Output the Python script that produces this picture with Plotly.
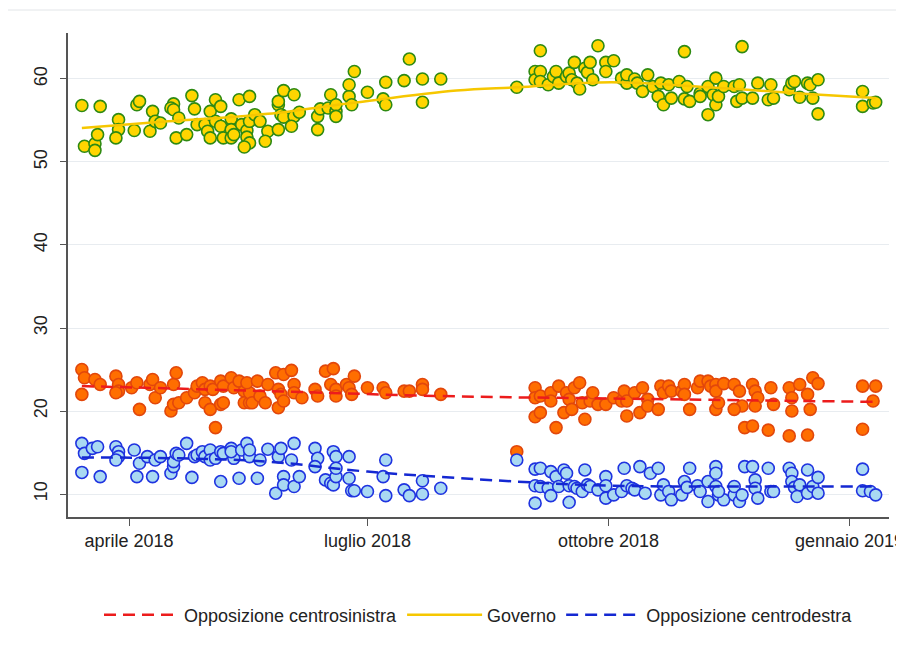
import plotly.graph_objects as go

# Governo (sondaggi)
gov_dates = [
    "2018-03-14", "2018-03-15", "2018-03-19", "2018-03-19", "2018-03-20", "2018-03-21", "2018-03-28", "2018-03-28", "2018-03-27",
    "2018-04-03", "2018-04-04", "2018-04-05", "2018-04-09", "2018-04-10", "2018-04-11", "2018-04-13", "2018-04-18", "2018-04-17",
    "2018-04-18", "2018-04-20", "2018-04-19", "2018-04-23", "2018-04-25", "2018-04-26", "2018-04-27", "2018-04-30",
    "2018-05-01", "2018-05-02", "2018-05-02", "2018-05-04", "2018-05-04", "2018-05-06", "2018-05-06", "2018-05-07", "2018-05-10",
    "2018-05-10", "2018-05-10", "2018-05-11", "2018-05-13", "2018-05-14", "2018-05-16", "2018-05-16", "2018-05-17", "2018-05-15",
    "2018-05-17", "2018-05-17", "2018-05-19", "2018-05-21", "2018-05-24", "2018-05-23", "2018-05-28", "2018-05-28", "2018-05-28",
    "2018-05-30", "2018-05-29", "2018-05-30",
    "2018-06-03", "2018-06-03", "2018-06-05", "2018-06-02", "2018-06-12", "2018-06-12", "2018-06-13", "2018-06-16", "2018-06-17",
    "2018-06-19", "2018-06-19", "2018-06-19", "2018-06-24", "2018-06-24", "2018-06-25", "2018-06-26",
    "2018-07-01", "2018-07-07", "2018-07-08", "2018-07-08", "2018-07-15", "2018-07-17", "2018-07-22", "2018-07-22", "2018-07-29",
    "2018-08-27", "2018-09-03", "2018-09-03", "2018-09-05", "2018-09-05", "2018-09-05", "2018-09-08", "2018-09-10", "2018-09-11",
    "2018-09-12", "2018-09-15", "2018-09-16", "2018-09-17", "2018-09-18", "2018-09-19", "2018-09-20", "2018-09-22", "2018-09-23",
    "2018-09-24", "2018-09-25", "2018-09-27", "2018-09-30", "2018-09-30",
    "2018-10-03", "2018-10-06", "2018-10-08", "2018-10-08", "2018-10-11", "2018-10-12", "2018-10-14", "2018-10-16", "2018-10-18",
    "2018-10-20", "2018-10-21", "2018-10-22", "2018-10-24", "2018-10-25", "2018-10-28", "2018-10-30", "2018-10-30", "2018-10-31",
    "2018-11-01", "2018-11-05", "2018-11-05", "2018-11-08", "2018-11-08", "2018-11-10", "2018-11-11", "2018-11-11", "2018-11-12",
    "2018-11-14", "2018-11-18", "2018-11-19", "2018-11-20", "2018-11-21", "2018-11-21", "2018-11-25", "2018-11-27",
    "2018-12-01", "2018-12-02", "2018-12-03", "2018-12-09", "2018-12-10", "2018-12-11", "2018-12-13", "2018-12-16", "2018-12-17",
    "2018-12-18", "2018-12-20", "2018-12-20",
    "2019-01-06", "2019-01-06", "2019-01-10", "2019-01-11",
]
gov_values = [
    56.8, 51.9, 52.2, 51.4, 53.3, 56.7, 55.1, 53.9, 52.9,
    53.8, 56.9, 57.3, 53.7, 56.1, 54.9, 54.7, 57.0, 56.5,
    56.3, 55.3, 52.9, 53.3, 58.0, 56.4, 54.5, 54.5,
    53.7, 56.1, 52.9, 57.5, 54.9, 56.7, 54.3, 52.9, 55.2,
    53.9, 52.9, 53.3, 57.5, 54.5, 53.8, 53.0, 52.3, 51.8,
    57.9, 54.9, 55.7, 54.9, 53.7, 52.5, 53.9, 56.9, 57.3,
    58.6, 55.7, 55.4,
    58.1, 55.5, 56.0, 54.3, 55.5, 53.9, 56.4, 56.5, 58.1,
    56.1, 56.9, 55.5, 57.9, 59.3, 56.9, 60.9,
    58.4, 57.6, 56.9, 59.6, 59.8, 62.4, 60.0, 57.2, 60.0,
    59.0, 60.9, 59.9, 60.9, 63.4, 59.7, 59.3, 60.3, 60.9,
    59.5, 60.3, 60.7, 59.9, 62.0, 59.5, 58.8, 61.3, 60.8,
    62.0, 59.9, 64.0, 62.0, 60.9,
    62.2, 60.1, 59.5, 60.5, 60.0, 59.5, 58.5, 60.5, 59.1,
    57.9, 59.5, 56.9, 59.3, 57.7, 59.7, 63.3, 57.6, 59.1,
    57.3, 58.3, 57.9, 59.1, 55.7, 58.1, 60.1, 56.9, 57.9,
    59.1, 59.1, 57.3, 59.3, 63.9, 57.7, 57.7, 59.5,
    57.5, 59.3, 57.7, 58.7, 59.5, 59.7, 57.8, 59.5, 59.3,
    57.7, 59.9, 55.8,
    58.5, 56.7, 57.1, 57.2,
]

# Opposizione centrosinistra
csx_dates = [
    "2018-03-14", "2018-03-15", "2018-03-14", "2018-03-19", "2018-03-21", "2018-03-27", "2018-03-28", "2018-03-28", "2018-03-27",
    "2018-04-02", "2018-04-04", "2018-04-05", "2018-04-09", "2018-04-10", "2018-04-11", "2018-04-13", "2018-04-18", "2018-04-19",
    "2018-04-17", "2018-04-18", "2018-04-20", "2018-04-23", "2018-04-26", "2018-04-27", "2018-04-29", "2018-04-30", "2018-04-30",
    "2018-05-02", "2018-05-02", "2018-05-03", "2018-05-04", "2018-05-06", "2018-05-07", "2018-05-06", "2018-05-07", "2018-05-10",
    "2018-05-11", "2018-05-13", "2018-05-15", "2018-05-15", "2018-05-17", "2018-05-17", "2018-05-18", "2018-05-16", "2018-05-20",
    "2018-05-21", "2018-05-23", "2018-05-24", "2018-05-27", "2018-05-30", "2018-05-28", "2018-05-28", "2018-05-29", "2018-05-30",
    "2018-06-02", "2018-06-03", "2018-06-03", "2018-06-06", "2018-06-11", "2018-06-12", "2018-06-15", "2018-06-18", "2018-06-17",
    "2018-06-19", "2018-06-19", "2018-06-23", "2018-06-24", "2018-06-25", "2018-06-26",
    "2018-07-01", "2018-07-07", "2018-07-08", "2018-07-15", "2018-07-17", "2018-07-22", "2018-07-22", "2018-07-29",
    "2018-08-27", "2018-09-03", "2018-09-03", "2018-09-03", "2018-09-05", "2018-09-05", "2018-09-09", "2018-09-09", "2018-09-12",
    "2018-09-11", "2018-09-14", "2018-09-15", "2018-09-16", "2018-09-17", "2018-09-18", "2018-09-20", "2018-09-22", "2018-09-21",
    "2018-09-24", "2018-09-25", "2018-09-27", "2018-09-30",
    "2018-10-03", "2018-10-06", "2018-10-07", "2018-10-08", "2018-10-08", "2018-10-11", "2018-10-13", "2018-10-14", "2018-10-16",
    "2018-10-16", "2018-10-20", "2018-10-21", "2018-10-22", "2018-10-24", "2018-10-25", "2018-10-29", "2018-10-30", "2018-10-30",
    "2018-11-01", "2018-11-04", "2018-11-05", "2018-11-08", "2018-11-09", "2018-11-11", "2018-11-11", "2018-11-11", "2018-11-14",
    "2018-11-12", "2018-11-18", "2018-11-20", "2018-11-21", "2018-11-18", "2018-11-22", "2018-11-25", "2018-11-25", "2018-11-26",
    "2018-11-27", "2018-11-26",
    "2018-12-01", "2018-12-02", "2018-12-03", "2018-12-09", "2018-12-10", "2018-12-10", "2018-12-13", "2018-12-09", "2018-12-16",
    "2018-12-17", "2018-12-16", "2018-12-18", "2018-12-20",
    "2019-01-06", "2019-01-11", "2019-01-10", "2019-01-06",
]
csx_values = [
    25.0, 24.0, 22.0, 23.8, 23.2, 24.2, 23.2, 22.4, 22.2,
    22.8, 23.4, 20.2, 23.2, 23.8, 21.6, 22.8, 23.2, 24.6,
    20.0, 20.8, 21.0, 21.6, 22.2, 23.0, 23.4, 22.6, 21.0,
    20.2, 23.0, 22.6, 18.0, 20.8, 21.0, 23.6, 23.0, 24.0,
    22.8, 23.6, 22.4, 21.0, 21.0, 22.2, 21.0, 23.4, 23.6,
    21.8, 21.0, 23.2, 24.6, 24.4, 22.6, 20.4, 22.0, 21.2,
    24.9, 23.2, 22.2, 21.6, 22.6, 21.8, 24.8, 25.1, 23.2,
    22.6, 21.8, 23.2, 22.8, 22.0, 24.2,
    22.8, 22.8, 22.2, 22.4, 22.4, 23.2, 22.6, 22.0,
    15.1, 22.8, 21.6, 19.3, 19.8, 21.8, 22.2, 21.2, 23.0,
    18.0, 19.8, 22.2, 21.4, 20.2, 22.8, 23.4, 19.0, 21.0,
    21.2, 22.2, 20.8, 20.8,
    21.6, 21.2, 22.4, 19.4, 21.2, 22.2, 19.8, 22.8, 21.4,
    20.6, 20.2, 23.0, 22.2, 23.0, 22.4, 22.4, 23.2, 22.0,
    20.2, 22.8, 23.6, 23.6, 23.0, 23.2, 22.4, 20.2, 23.3,
    21.0, 23.2, 22.4, 20.6, 20.2, 18.0, 18.2, 23.2, 22.4,
    21.6, 20.6,
    17.7, 22.8, 20.8, 22.8, 21.6, 20.0, 23.2, 17.0, 22.0,
    20.2, 17.1, 24.0, 23.3,
    23.0, 23.0, 21.2, 17.8,
]

# Opposizione centrodestra
cdx_dates = [
    "2018-03-14", "2018-03-15", "2018-03-14", "2018-03-18", "2018-03-20", "2018-03-21", "2018-03-27", "2018-03-28", "2018-03-28",
    "2018-03-27",
    "2018-04-03", "2018-04-04", "2018-04-05", "2018-04-08", "2018-04-10", "2018-04-11", "2018-04-13", "2018-04-17", "2018-04-18",
    "2018-04-18", "2018-04-19", "2018-04-20", "2018-04-23", "2018-04-25", "2018-04-26", "2018-04-27", "2018-04-29", "2018-04-30",
    "2018-05-02", "2018-05-02", "2018-05-04", "2018-05-06", "2018-05-06", "2018-05-07", "2018-05-10", "2018-05-11", "2018-05-10",
    "2018-05-13", "2018-05-14", "2018-05-16", "2018-05-17", "2018-05-17", "2018-05-20", "2018-05-21", "2018-05-24", "2018-05-27",
    "2018-05-28", "2018-05-29", "2018-05-30", "2018-05-30",
    "2018-06-03", "2018-06-02", "2018-06-03", "2018-06-05", "2018-06-11", "2018-06-12", "2018-06-11", "2018-06-15", "2018-06-17",
    "2018-06-18", "2018-06-18", "2018-06-19", "2018-06-19", "2018-06-19", "2018-06-24", "2018-06-24", "2018-06-25", "2018-06-26",
    "2018-07-01", "2018-07-08", "2018-07-07", "2018-07-08", "2018-07-15", "2018-07-17", "2018-07-22", "2018-07-22", "2018-07-29",
    "2018-08-27", "2018-09-03", "2018-09-05", "2018-09-03", "2018-09-05", "2018-09-03", "2018-09-08", "2018-09-09", "2018-09-09",
    "2018-09-11", "2018-09-12", "2018-09-14", "2018-09-15", "2018-09-16", "2018-09-16", "2018-09-18", "2018-09-19", "2018-09-22",
    "2018-09-21", "2018-09-23", "2018-09-24", "2018-09-27", "2018-09-30", "2018-09-30", "2018-09-30",
    "2018-10-03", "2018-10-06", "2018-10-07", "2018-10-08", "2018-10-10", "2018-10-11", "2018-10-13", "2018-10-15", "2018-10-17",
    "2018-10-20", "2018-10-21", "2018-10-22", "2018-10-24", "2018-10-25", "2018-10-29", "2018-10-30", "2018-10-31",
    "2018-11-01", "2018-11-04", "2018-11-05", "2018-11-08", "2018-11-08", "2018-11-11", "2018-11-11", "2018-11-11", "2018-11-12",
    "2018-11-14", "2018-11-12", "2018-11-18", "2018-11-18", "2018-11-20", "2018-11-21", "2018-11-22", "2018-11-25", "2018-11-26",
    "2018-11-26", "2018-11-27",
    "2018-12-01", "2018-12-02", "2018-12-03", "2018-12-09", "2018-12-10", "2018-12-10", "2018-12-11", "2018-12-13", "2018-12-12",
    "2018-12-16", "2018-12-16", "2018-12-18", "2018-12-20", "2018-12-20",
    "2019-01-06", "2019-01-06", "2019-01-09", "2019-01-11",
]
cdx_values = [
    16.1, 14.9, 12.6, 15.5, 15.7, 12.1, 15.7, 15.1, 14.5,
    14.1,
    15.3, 12.1, 13.7, 14.5, 12.1, 14.1, 14.5, 12.5, 13.3,
    13.9, 14.9, 14.7, 16.1, 12.0, 14.5, 14.7, 15.1, 14.5,
    15.3, 14.1, 14.3, 11.5, 15.1, 14.9, 15.5, 14.3, 15.1,
    11.9, 15.3, 16.1, 14.5, 15.3, 11.9, 14.1, 15.4, 10.1,
    14.5, 15.5, 12.1, 11.1,
    16.1, 14.1, 10.9, 12.1, 15.5, 14.3, 13.3, 11.7, 11.3,
    11.1, 15.1, 14.5, 12.1, 13.1, 11.9, 14.5, 10.4, 10.4,
    10.3, 14.1, 12.1, 9.8, 10.5, 9.8, 11.6, 10.0, 10.7,
    14.1, 13.0, 13.1, 11.0, 10.9, 8.9, 10.7, 9.8, 12.7,
    12.1, 10.9, 12.9, 12.5, 11.0, 9.0, 10.9, 10.7, 12.9,
    10.3, 11.1, 10.9, 10.5, 12.1, 11.0, 9.5,
    9.9, 10.3, 13.1, 11.0, 10.7, 10.5, 13.3, 10.1, 12.5,
    13.1, 9.9, 11.1, 10.3, 9.3, 9.9, 11.5, 10.8,
    13.1, 11.0, 10.3, 9.1, 11.5, 13.3, 12.5, 10.9, 9.9,
    9.3, 10.3, 9.9, 10.9, 9.1, 9.9, 13.3, 13.3, 11.7,
    10.7, 9.5,
    13.1, 10.3, 10.3, 13.1, 12.5, 11.5, 10.8, 11.1, 9.7,
    12.9, 10.1, 10.9, 12.0, 10.1,
    13.0, 10.4, 10.3, 9.9,
]

# curve di tendenza
gov_trend_dates = ["2018-03-14", "2018-04-16", "2018-05-24", "2018-06-25", "2018-08-04",
                   "2018-08-27", "2018-10-02", "2018-11-08", "2018-12-16", "2019-01-11"]
gov_trend = [54.1, 54.9, 55.8, 57.1, 58.6, 59.0, 59.6, 59.0, 58.2, 57.7]
csx_trend_dates = ["2018-03-14", "2018-05-24", "2018-07-29", "2018-10-02", "2019-01-11"]
csx_trend = [23.0, 22.4, 21.8, 21.5, 21.1]
cdx_trend_dates = ["2018-03-14", "2018-04-20", "2018-05-24", "2018-07-01", "2018-08-27",
                   "2018-10-02", "2018-11-15", "2019-01-11"]
cdx_trend = [14.4, 14.3, 13.9, 12.7, 11.5, 11.0, 10.9, 10.9]

tick_dates = ["2018-04-01", "2018-07-01", "2018-10-01", "2019-01-01"]
tick_labels = ["aprile 2018", "luglio 2018", "ottobre 2018", "gennaio 2019"]
y_ticks = [10, 20, 30, 40, 50, 60]

FONT = "Liberation Sans, Arial, sans-serif"

fig = go.Figure()

# punti dei sondaggi
fig.add_trace(go.Scatter(x=csx_dates, y=csx_values, mode="markers", showlegend=False,
                         marker=dict(size=12, color="#FF6E00", line=dict(color="#E2470B", width=1.6))))
fig.add_trace(go.Scatter(x=cdx_dates, y=cdx_values, mode="markers", showlegend=False,
                         marker=dict(size=12, color="#A9D9F2", line=dict(color="#1F33E0", width=1.6))))
fig.add_trace(go.Scatter(x=gov_dates, y=gov_values, mode="markers", showlegend=False,
                         marker=dict(size=12, color="#FFD500", line=dict(color="#2E8A12", width=1.6))))

# linee di tendenza (in legenda)
fig.add_trace(go.Scatter(x=csx_trend_dates, y=csx_trend, mode="lines", name="Opposizione centrosinistra",
                         line=dict(color="#EC1C1C", width=2.5, dash="12px,7px", shape="spline")))
fig.add_trace(go.Scatter(x=gov_trend_dates, y=gov_trend, mode="lines", name="Governo",
                         line=dict(color="#F6C700", width=2.5, shape="spline")))
fig.add_trace(go.Scatter(x=cdx_trend_dates, y=cdx_trend, mode="lines", name="Opposizione centrodestra",
                         line=dict(color="#1428D2", width=2.5, dash="12px,7px", shape="spline")))

# la pagina ha 8px di margine: figura più piccola per stare nella finestra
fig.update_layout(
    width=896, height=652,
    margin=dict(l=60, r=15, t=25, b=143, autoexpand=False),
    paper_bgcolor="white", plot_bgcolor="white",
    font=dict(family=FONT, size=18, color="#222"),
    legend=dict(orientation="h", x=0.5, xanchor="center", y=-0.2025, yanchor="middle",
                font=dict(size=18), itemwidth=75, bgcolor="rgba(0,0,0,0)"),
    shapes=[dict(type="rect", xref="paper", yref="paper", x0=-0.0767, x1=1.03, y0=-0.32, y1=1.0475,
                 line=dict(color="#E2E5E8", width=1), layer="below")],
)
fig.update_xaxes(
    range=["2018-03-08 17:00", "2019-01-16 02:00"],
    tickvals=tick_dates, ticktext=tick_labels, ticklabeloverflow="allow", automargin=False,
    showgrid=False, zeroline=False,
    showline=True, linecolor="#555", linewidth=1.5,
    ticks="outside", ticklen=7, tickcolor="#555", tickwidth=1.3,
)
fig.update_yaxes(
    range=[7.23, 65.54], tickvals=y_ticks, tickangle=-90, automargin=False,
    ticklabelstandoff=6,
    showgrid=True, gridcolor="#E8ECF0", gridwidth=1.3, zeroline=False,
    showline=True, linecolor="#555", linewidth=1.5,
    ticks="outside", ticklen=6, tickcolor="#555", tickwidth=1.3,
)

fig.write_html("out.html")
